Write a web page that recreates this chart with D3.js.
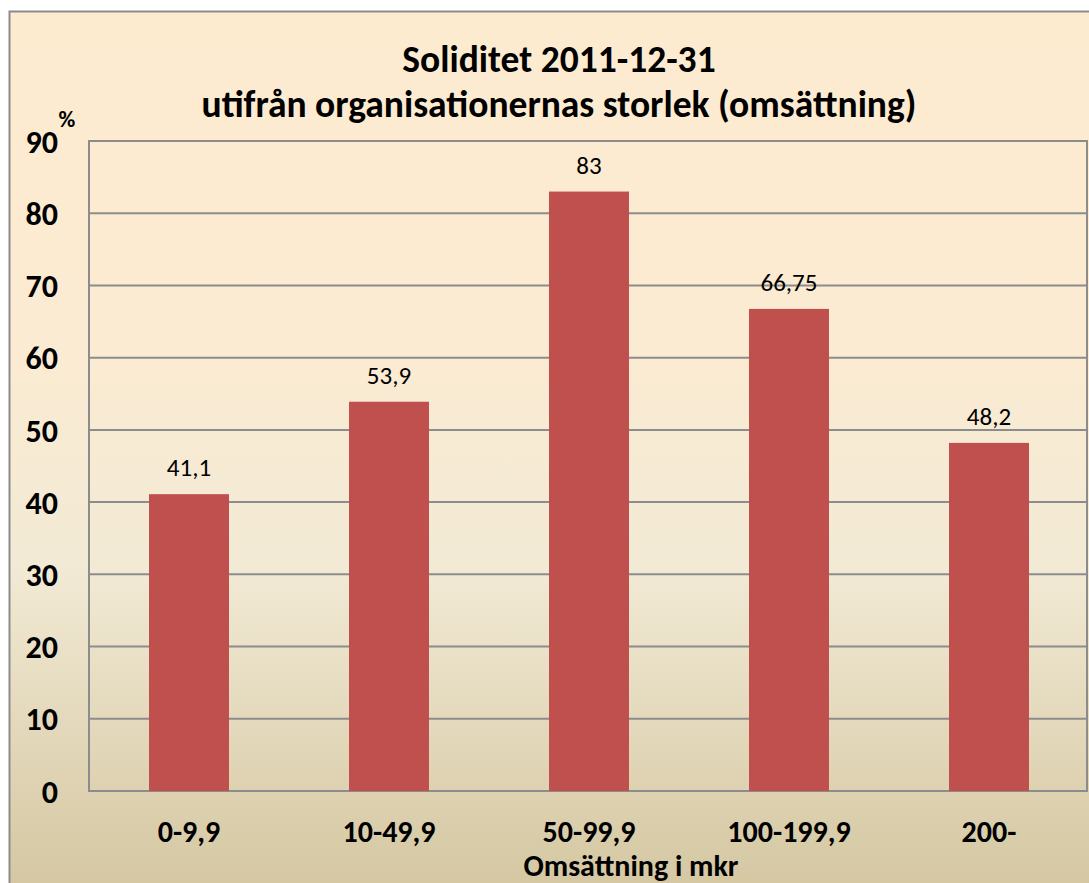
<!DOCTYPE html>
<html>
<head>
<meta charset="utf-8">
<script src="https://cdn.jsdelivr.net/npm/d3@7"></script>
<style>
  body { margin: 0; background: #fff; }
  text { font-family: Carlito, Calibri, Lato, "Open Sans", sans-serif; }
</style>
</head>
<body>
<div id="chart"></div>
<script>
const categories = ["0-9,9", "10-49,9", "50-99,9", "100-199,9", "200-"];
const values = [41.1, 53.9, 83, 66.75, 48.2];
const valueLabels = ["41,1", "53,9", "83", "66,75", "48,2"];
const yTicks = [0, 10, 20, 30, 40, 50, 60, 70, 80, 90];

const W = 1089, H = 883;
const plot = { left: 89, top: 141, right: 1089, bottom: 791 };
const font = "Carlito, Calibri, Lato, sans-serif";

const svg = d3.select("#chart").append("svg")
  .attr("width", W)
  .attr("height", H);

const defs = svg.append("defs");
const grad = defs.append("linearGradient")
  .attr("id", "bg")
  .attr("x1", 0).attr("y1", 0).attr("x2", 0).attr("y2", 1);
grad.append("stop").attr("offset", "0%").attr("stop-color", "#fdebd0");
grad.append("stop").attr("offset", "38%").attr("stop-color", "#fbebd2");
grad.append("stop").attr("offset", "62%").attr("stop-color", "#f2ead5");
grad.append("stop").attr("offset", "100%").attr("stop-color", "#d3c59f");

// outer chart area
svg.append("rect")
  .attr("x", 9.5).attr("y", 11.5)
  .attr("width", W + 10).attr("height", H + 10)
  .attr("fill", "url(#bg)")
  .attr("stroke", "#8c8c8c")
  .attr("stroke-width", 2);

const x = d3.scaleBand()
  .domain(categories)
  .range([plot.left, plot.right])
  .paddingInner(0.6)
  .paddingOuter(0.3);

const y = d3.scaleLinear()
  .domain([0, 90])
  .range([plot.bottom, plot.top]);

// plot border
svg.append("rect")
  .attr("x", plot.left).attr("y", plot.top)
  .attr("width", plot.right - plot.left - 2)
  .attr("height", plot.bottom - plot.top)
  .attr("fill", "none")
  .attr("stroke", "#8c8c8c")
  .attr("stroke-width", 2);

// gridlines
svg.append("g")
  .selectAll("line")
  .data(yTicks)
  .join("line")
  .attr("x1", plot.left)
  .attr("x2", plot.right - 2)
  .attr("y1", d => y(d))
  .attr("y2", d => y(d))
  .attr("stroke", "#8c8c8c")
  .attr("stroke-width", 2);

// y axis labels
const yAxis = d3.axisLeft(y).tickValues(yTicks).tickSize(0).tickPadding(31);
svg.append("g")
  .attr("transform", `translate(${plot.left},0)`)
  .call(yAxis)
  .call(g => g.select(".domain").remove())
  .selectAll("text")
  .attr("font-family", font)
  .style("font-size", "32px")
  .style("font-weight", "bold")
  .attr("fill", "#000")
  .attr("dy", "0.35em");

// bars
svg.append("g")
  .selectAll("rect")
  .data(values)
  .join("rect")
  .attr("x", (d, i) => x(categories[i]))
  .attr("y", d => y(d))
  .attr("width", x.bandwidth())
  .attr("height", d => y(0) - y(d))
  .attr("fill", "#c0504d");

// value labels
svg.append("g")
  .selectAll("text")
  .data(values)
  .join("text")
  .attr("x", (d, i) => x(categories[i]) + x.bandwidth() / 2)
  .attr("y", d => y(d) - 18)
  .attr("text-anchor", "middle")
  .style("font-size", "25px")
  .attr("fill", "#000")
  .text((d, i) => valueLabels[i]);

// x axis labels
const xAxis = d3.axisBottom(x).tickSize(0);
svg.append("g")
  .attr("transform", `translate(0,${plot.bottom})`)
  .call(xAxis)
  .call(g => g.select(".domain").remove())
  .selectAll("text")
  .attr("font-family", font)
  .attr("y", 51)
  .attr("dy", 0)
  .style("font-size", "30px")
  .style("font-weight", "bold")
  .attr("fill", "#000");

// axis title
svg.append("text")
  .attr("x", 631)
  .attr("y", 876)
  .attr("text-anchor", "middle")
  .style("font-size", "30px")
  .style("font-weight", "bold")
  .text("Omsättning i mkr");

// unit
svg.append("text")
  .attr("x", 67)
  .attr("y", 127)
  .attr("text-anchor", "middle")
  .style("font-size", "23px")
  .style("font-weight", "bold")
  .text("%");

// title
const title = svg.append("text")
  .attr("text-anchor", "middle")
  .style("font-size", "37.5px")
  .style("font-weight", "bold");
title.append("tspan").attr("x", 559).attr("y", 72).text("Soliditet 2011-12-31");
title.append("tspan").attr("x", 559).attr("y", 117).text("utifrån organisationernas storlek (omsättning)");
</script>
</body>
</html>
